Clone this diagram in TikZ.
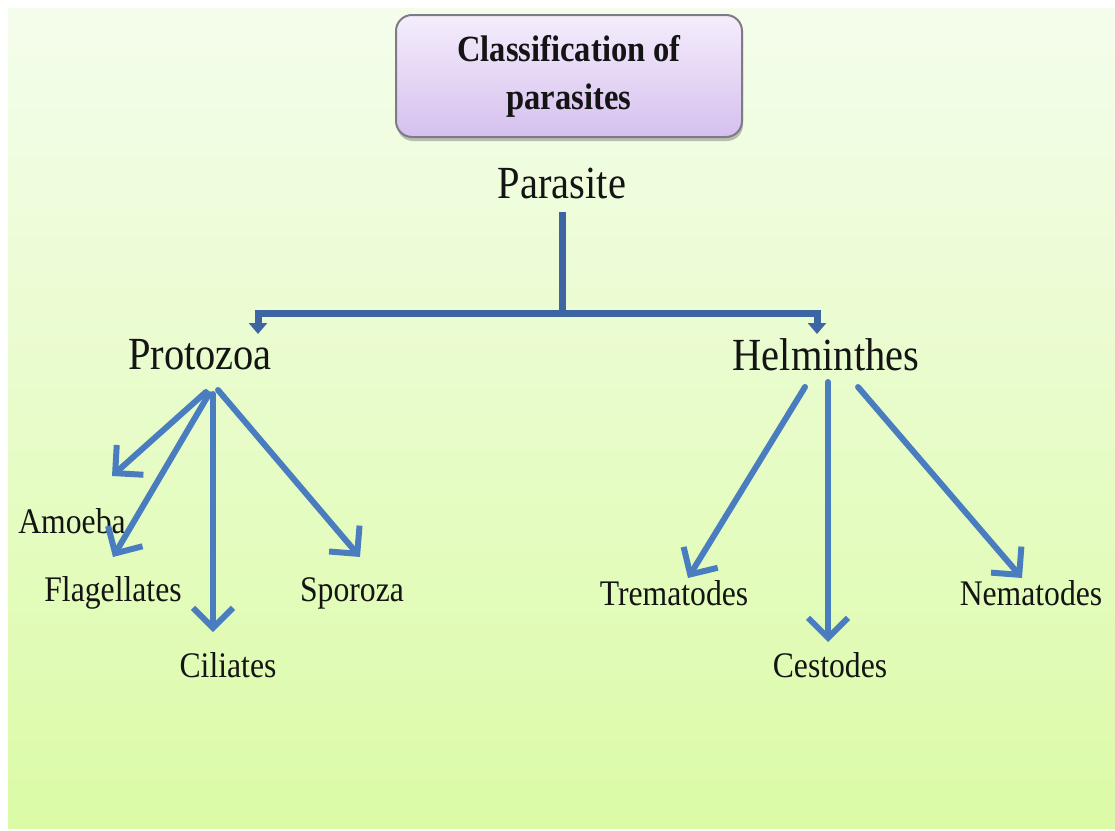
\documentclass[tikz,border=0pt]{standalone}
\usepackage{fontspec}
\setmainfont{Liberation Serif}
\newfontfamily\narrowserif{Liberation Serif}[FakeStretch=0.88]
\usetikzlibrary{arrows.meta,shadows}
\definecolor{bgtop}{HTML}{F4FDEC}
\definecolor{bgbot}{HTML}{DBFBA6}
\definecolor{boxtop}{HTML}{F5EDFC}
\definecolor{boxbot}{HTML}{D5C0EE}
\definecolor{boxedge}{HTML}{7E7A86}
\definecolor{mainblue}{HTML}{3D64A3}
\definecolor{armblue}{HTML}{4A7DC0}
\definecolor{ink}{HTML}{141414}
\tikzset{
  bigtext/.style={inner sep=0pt, text=ink, font=\narrowserif\fontsize{46}{52}\selectfont},
  smalltext/.style={inner sep=0pt, text=ink, font=\narrowserif\fontsize{36}{42}\selectfont},
  mainline/.style={draw=mainblue, line width=7pt, -{Triangle[length=11pt,width=18pt]}},
  trunk/.style={draw=mainblue, line width=7pt},
  armline/.style={draw=armblue, line width=6pt, line cap=round,
    -{Straight Barb[length=20pt,width=40pt,line width=6pt]}},
}
\begin{document}
\begin{tikzpicture}[x=1pt,y=1pt]
\useasboundingbox (0,0) rectangle (1115,-830);
\fill[white] (0,0) rectangle (1115,-830);
\shade[top color=bgtop, bottom color=bgbot] (8,-8) rectangle (1115,-828);

% title box
\node[draw=boxedge, line width=2pt, rounded corners=16pt,
      top color=boxtop, bottom color=boxbot,
      drop shadow={opacity=0.5, shadow xshift=1pt, shadow yshift=-4pt},
      minimum width=346pt, minimum height=122pt, align=center, text=ink,
      font=\narrowserif\bfseries\fontsize{37}{48}\selectfont] (title) at (569,-76)
      {Classification of\\parasites};

% main labels
\node[bigtext] (par) at (562,-183) {Parasite};
\node[bigtext] (pro) at (200,-355) {Protozoa};
\node[bigtext] (hel) at (826,-355) {Helminthes};

% sub labels
\node[smalltext] (amo) at (72,-521) {Amoeba};
\node[smalltext] (fla) at (113,-593) {Flagellates};
\node[smalltext] (cil) at (228,-665) {Ciliates};
\node[smalltext] (spo) at (352,-593) {Sporoza};
\node[smalltext] (tre) at (674,-593) {Trematodes};
\node[smalltext] (ces) at (830,-665) {Cestodes};
\node[smalltext] (nem) at (1031,-593) {Nematodes};

% main connector
\coordinate (ptop) at (562,-212);
\coordinate (junc) at (562,-313);
\coordinate (protip) at (258,-334);
\coordinate (heltip) at (817,-334);
\draw[trunk] (ptop) -- (junc);
\draw[mainline] (junc) -| (protip);
\draw[mainline] (junc) -| (heltip);

% protozoa arms
\coordinate (proA) at (206,-392);
\coordinate (proB) at (209,-394);
\coordinate (proC) at (213,-394);
\coordinate (proD) at (218,-390);
\coordinate (amoT) at (112,-476);
\coordinate (flaT) at (113,-557);
\coordinate (cilT) at (213,-632);
\coordinate (spoT) at (360,-557);
\draw[armline] (proA) -- (amoT);
\draw[armline] (proB) -- (flaT);
\draw[armline] (proC) -- (cilT);
\draw[armline] (proD) -- (spoT);

% helminthes arms
\coordinate (helA) at (805,-387);
\coordinate (helB) at (828,-382);
\coordinate (helC) at (858,-387);
\coordinate (treT) at (688,-578);
\coordinate (cesT) at (828,-642);
\coordinate (nemT) at (1022,-578);
\draw[armline] (helA) -- (treT);
\draw[armline] (helB) -- (cesT);
\draw[armline] (helC) -- (nemT);
\end{tikzpicture}
\end{document}
